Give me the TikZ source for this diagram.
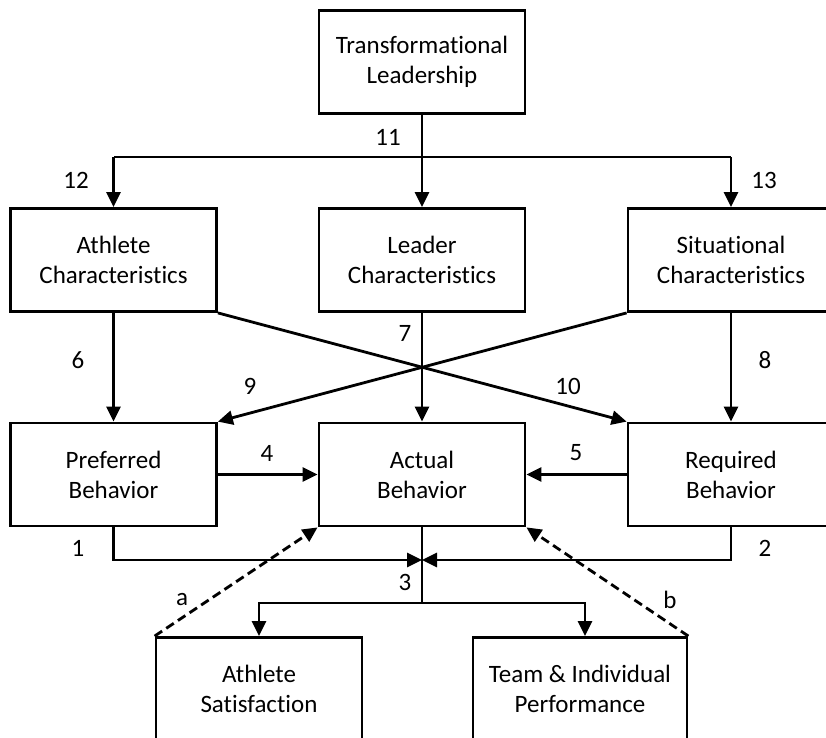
\documentclass[tikz,border=0pt]{standalone}
\usepackage{fontspec}
\setmainfont{Carlito}[Ligatures={NoCommon,NoRare,NoContextual}]
\usepackage{tikz}
\usetikzlibrary{arrows.meta}

\begin{document}
\begin{tikzpicture}[
  x=1pt,
  y=-1pt,
  box/.style={
    rectangle,
    draw=black,
    line width=2.8pt,
    align=center,
    inner sep=0pt,
    minimum width=206pt,
    minimum height=103pt,
    font=\fontsize{25}{30}\selectfont
  },
  widebox/.style={
    box,
    minimum width=214pt
  },
  num/.style={
    inner sep=0pt,
    font=\fontsize{25}{30}\selectfont
  },
  link/.style={
    -{Triangle[length=15pt,width=14pt]},
    draw=black,
    line width=2.8pt
  },
  plain/.style={
    draw=black,
    line width=2.8pt
  },
  feedback/.style={
    -{Triangle[length=15pt,width=14pt]},
    draw=black,
    line width=2.8pt,
    dash pattern=on 9pt off 5pt
  }
]

\useasboundingbox (0,0) rectangle (826,737);
\clip (0,0) rectangle (826,737);

% Top
\node[box] (tl) at (422,62) {Transformational\\Leadership};

% Row 1: characteristics
\node[box] (ac) at (113.5,260) {Athlete\\Characteristics};
\node[box] (lc) at (422,260)   {Leader\\Characteristics};
\node[box] (sc) at (731,260)   {Situational\\Characteristics};

% Row 2: behaviors
\node[box] (pb) at (113.5,474.5) {Preferred\\Behavior};
\node[box] (ab) at (422,474.5)   {Actual\\Behavior};
\node[box] (rb) at (731,474.5)   {Required\\Behavior};

% Row 3: outcomes (cut off at the page edge)
\node[box]     (as) at (259,689) {Athlete\\Satisfaction};
\node[widebox] (tp) at (580,689) {Team \& Individual\\Performance};

% Branch points
\coordinate (split) at (422,157);
\coordinate (merge) at (422,560);
\coordinate (fork)  at (422,603);

% Leadership to characteristics
\draw[link] (tl.south) -- (lc.north);
\draw[plain] (split) -- (ac.north |- split);
\draw[plain] (split) -- (sc.north |- split);
\draw[link] (ac.north |- split) -- (ac.north);
\draw[link] (sc.north |- split) -- (sc.north);

% Characteristics to behaviors
\draw[link] (ac) -- (pb);
\draw[link] (lc) -- (ab);
\draw[link] (sc) -- (rb);
\draw[link] (ac.south east) -- (rb.north west);
\draw[link] (sc.south west) -- (pb.north east);

% Preferred and required to actual
\draw[link] (pb) -- (ab);
\draw[link] (rb) -- (ab);

% Congruence to outcomes
\draw[link] (pb.south) |- (merge);
\draw[link] (rb.south) |- (merge);
\draw[plain] (ab.south) -- (fork);
\draw[link] (fork) -| (as.north);
\draw[link] (fork) -| ([xshift=5pt]tp.north);

% Feedback
\draw[feedback] (as.north west) -- (ab.south west);
\draw[feedback] (tp.north east) -- (ab.south east);

% Path numbers
\node[num] (n1)  at (78,548)  {1};
\node[num] (n2)  at (765,548) {2};
\node[num] (n3)  at (405,582) {3};
\node[num] (n4)  at (267,453) {4};
\node[num] (n5)  at (576,453) {5};
\node[num] (n6)  at (78,360)  {6};
\node[num] (n7)  at (405,333) {7};
\node[num] (n8)  at (765,360) {8};
\node[num] (n9)  at (250,386) {9};
\node[num] (n10) at (568,386) {10};
\node[num] (n11) at (388,137) {11};
\node[num] (n12) at (76,180)  {12};
\node[num] (n13) at (764,180) {13};
\node[num] (na)  at (182,600) {a};
\node[num] (nb)  at (670,600) {b};

\end{tikzpicture}
\end{document}
